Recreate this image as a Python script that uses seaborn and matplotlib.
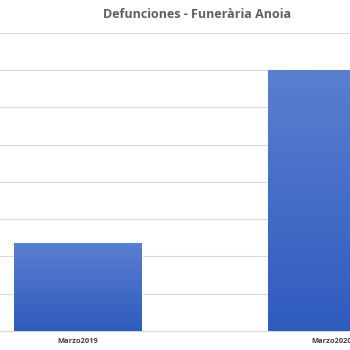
import numpy as np
import pandas as pd
import seaborn as sns
import matplotlib
matplotlib.use("Agg")
import matplotlib.pyplot as plt
from matplotlib.colors import LinearSegmentedColormap

categories = ["Marzo2019", "Marzo2020"]
values = [47, 140]
title = "Defunciones - Funerària Anoia"

df = pd.DataFrame({"mes": categories, "defunciones": values})

sns.set_style("white")
plt.rcParams['font.family'] = ['Open Sans', 'DejaVu Sans']

fig = plt.figure(figsize=(3.5, 3.5), dpi=100)
ax = fig.add_axes([-0.14, 0.0543, 1.451, 0.852])

sns.barplot(data=df, x="mes", y="defunciones", ax=ax, color="#4472C4",
            width=0.504, saturation=1, zorder=3)

ax.set_xlim(-0.5, 1.5)
ax.set_ylim(0, 160)
ax.set_yticks(np.arange(0, 161, 20))
ax.yaxis.grid(True, color="#d9d9d9", linewidth=0.8, zorder=0)
ax.set_axisbelow(True)
ax.tick_params(axis="y", length=0, labelleft=False)
ax.tick_params(axis="x", length=0, labelsize=5.4, colors="#404040", pad=5)
for lab in ax.get_xticklabels():
    lab.set_fontweight("bold")
ax.set_xlabel("")
ax.set_ylabel("")
for s in ["top", "left", "right"]:
    ax.spines[s].set_visible(False)
ax.spines["bottom"].set_color("#d9d9d9")
ax.spines["bottom"].set_linewidth(0.8)

# vertical gradient fill on bars
cmap = LinearSegmentedColormap.from_list("g", ["#2f5bbf", "#5a7fcf"])
grad = np.linspace(0, 1, 256).reshape(-1, 1)
for p in list(ax.patches):
    x0, y0 = p.get_x(), p.get_y()
    w, h = p.get_width(), p.get_height()
    im = ax.imshow(grad, cmap=cmap, origin="lower", aspect="auto",
                   extent=[x0, x0 + w, y0, y0 + h], zorder=4)
    im.set_clip_path(p)
ax.set_xlim(-0.5, 1.5)
ax.set_ylim(0, 160)

fig.text(0.563, 0.96, title, ha="center", va="center", fontsize=9,
         fontweight="bold", color="#5f5f5f")

fig.savefig("out.png", dpi=100)
